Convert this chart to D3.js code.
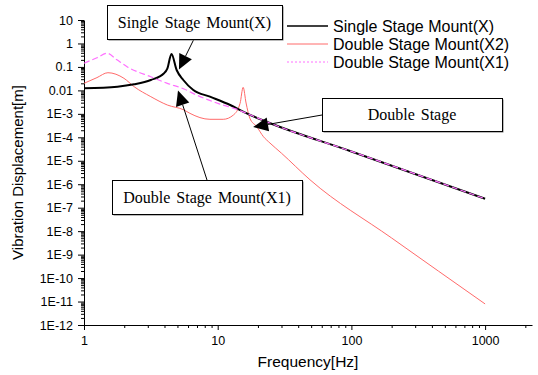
<!DOCTYPE html>
<html>
<head>
<meta charset="utf-8">
<script src="https://cdn.jsdelivr.net/npm/d3@7"></script>
<style>
  body { margin: 0; background: #fff; }
  svg { display: block; }
  .tick text { font-family: "Liberation Sans", Arial, sans-serif; font-size: 12.5px; fill: #000; }
  .axis path, .axis line { stroke: #000; }
</style>
</head>
<body>
<div id="chart"></div>
<script>
// values
const freqSingle = [1, 1.78, 2.37, 3.16, 3.97, 4.2, 4.51, 4.93, 5.53, 6.57, 8.75, 12.4, 16.5, 23.2, 100, 1000];
const dispSingle = [0.0123, 0.0144, 0.0182, 0.0277, 0.0535, 0.085, 0.356, 0.074, 0.0277, 0.0104, 0.0054, 0.00238, 0.00105, 4.6e-4, 2.5e-5, 2.4e-7];

const freqX2 = [1, 1.25, 1.51, 1.99, 2.37, 3.16, 4.2, 5.6, 6.2, 8.75, 11, 13.1, 14.7, 15.5, 16.3, 17.4, 19.6, 22, 24.6, 30, 49, 200, 1000];
const dispX2 = [0.02, 0.035, 0.0567, 0.0327, 0.0144, 0.0054, 0.00238, 0.00146, 0.00105, 5.85e-4, 5.85e-4, 8.9e-4, 0.0028, 0.0135, 0.0029, 6.5e-4, 2.83e-4, 1.06e-4, 5.7e-5, 2.1e-5, 1.55e-6, 5.1e-9, 7.9e-12];

const freqX1 = [1, 1.25, 1.49, 1.75, 2.1, 3.16, 4.2, 5.6, 7, 10.4, 14, 16.5, 23.2, 100, 1000];
const dispX1 = [0.143, 0.247, 0.38, 0.207, 0.102, 0.038, 0.02, 0.0115, 0.0062, 0.0026, 0.00155, 0.00105, 4.6e-4, 2.5e-5, 2.4e-7];

const seriesNames = ["Single Stage Mount(X)", "Double Stage Mount(X2)", "Double Stage Mount(X1)"];
const seriesColors = ["#000000", "#ff6a6a", "#ff70ff"];

const xTicks = [1, 10, 100, 1000];
const xTickLabels = ["1", "10", "100", "1000"];
const yTicks = [10, 1, 0.1, 0.01, 1e-3, 1e-4, 1e-5, 1e-6, 1e-7, 1e-8, 1e-9, 1e-10, 1e-11, 1e-12];
const yTickLabels = ["10", "1", "0.1", "0.01", "1E-3", "1E-4", "1E-5", "1E-6", "1E-7", "1E-8", "1E-9", "1E-10", "1E-11", "1E-12"];

const w = 538, h = 375;
const margin = { top: 20, right: 6, bottom: 50, left: 84 };

const svg = d3.select("#chart").append("svg")
  .attr("width", w)
  .attr("height", h);

const x = d3.scaleLog()
  .domain([1, 2243])
  .range([margin.left, w - margin.right]);

const y = d3.scaleLog()
  .domain([1e-12, 10])
  .range([h - margin.bottom, margin.top]);

// minor ticks 2..9 in each decade
const xMinor = [];
for (let e = 0; e <= 3; e++) {
  for (let k = 2; k <= 9; k++) {
    const v = k * Math.pow(10, e);
    if (v <= 2243) xMinor.push(v);
  }
}
const yMinor = [];
for (let e = -12; e < 1; e++) {
  for (let k = 2; k <= 9; k++) yMinor.push(k * Math.pow(10, e));
}

// x axis
svg.append("g")
  .attr("class", "axis")
  .attr("transform", "translate(0," + (h - margin.bottom) + ")")
  .call(d3.axisBottom(x).tickValues(xMinor).tickSize(3).tickFormat("").tickSizeOuter(0))
  .call(g => g.select(".domain").remove());

svg.append("g")
  .attr("class", "axis")
  .attr("transform", "translate(0," + (h - margin.bottom) + ")")
  .call(d3.axisBottom(x).tickValues(xTicks).tickSize(5).tickPadding(6).tickSizeOuter(0)
    .tickFormat((d, i) => xTickLabels[i]));

// y axis
svg.append("g")
  .attr("class", "axis")
  .attr("transform", "translate(" + margin.left + ",0)")
  .call(d3.axisLeft(y).tickValues(yMinor).tickSize(3).tickFormat("").tickSizeOuter(0))
  .call(g => g.select(".domain").remove());

svg.append("g")
  .attr("class", "axis")
  .attr("transform", "translate(" + margin.left + ",0)")
  .call(d3.axisLeft(y).tickValues(yTicks).tickSize(6).tickPadding(5).tickSizeOuter(0)
    .tickFormat((d, i) => yTickLabels[i]));

// axis titles
svg.append("text")
  .attr("x", (margin.left + w - margin.right) / 2)
  .attr("y", 367)
  .attr("text-anchor", "middle")
  .style("font-family", "Liberation Sans, Arial, sans-serif")
  .style("font-size", "15.5px")
  .text("Frequency[Hz]");

svg.append("text")
  .attr("transform", "translate(23," + ((margin.top + h - margin.bottom) / 2) + ") rotate(-90)")
  .attr("text-anchor", "middle")
  .style("font-family", "Liberation Sans, Arial, sans-serif")
  .style("font-size", "15px")
  .text("Vibration Displacement[m]");

// curves
const line = d3.line()
  .x(d => x(d[0]))
  .y(d => y(d[1]))
  .curve(d3.curveMonotoneX);

const dataSingle = freqSingle.map((f, i) => [f, dispSingle[i]]);
const dataX2 = freqX2.map((f, i) => [f, dispX2[i]]);
const dataX1 = freqX1.map((f, i) => [f, dispX1[i]]);

svg.append("path")
  .datum(dataX2)
  .attr("fill", "none")
  .attr("stroke", seriesColors[1])
  .attr("stroke-width", 1)
  .attr("d", line);

svg.append("path")
  .datum(dataSingle)
  .attr("fill", "none")
  .attr("stroke", seriesColors[0])
  .attr("stroke-width", 2)
  .attr("d", line);

svg.append("path")
  .datum(dataX1)
  .attr("fill", "none")
  .attr("stroke", seriesColors[2])
  .attr("stroke-width", 1.2)
  .attr("stroke-dasharray", "6,3")
  .attr("d", line);

// legend
const legend = svg.append("g").selectAll("g")
  .data(seriesNames)
  .enter()
  .append("g")
  .attr("transform", (d, i) => "translate(0," + (26 + i * 18) + ")");

legend.append("line")
  .attr("x1", 287)
  .attr("x2", 328)
  .attr("stroke", (d, i) => seriesColors[i])
  .attr("stroke-width", (d, i) => i == 0 ? 1.5 : 1)
  .attr("stroke-dasharray", (d, i) => i == 2 ? "2,2" : null);

legend.append("text")
  .attr("x", 333)
  .attr("dy", "0.35em")
  .style("font-family", "Liberation Sans, Arial, sans-serif")
  .style("font-size", "16px")
  .text(d => d);

// annotation boxes with arrows
const notes = [
  { text: "Single Stage Mount(X)", box: [107, 5, 175, 34], from: [194, 39], to: [5.13, 0.0776] },
  { text: "Double Stage", box: [322, 98, 180, 33], from: [322, 115], to: [18.4, 2.75e-4] },
  { text: "Double Stage Mount(X1)", box: [112, 180, 190, 34], from: [207, 180], to: [5.05, 0.0099] }
];

notes.forEach(n => {
  const tx = x(n.to[0]), ty = y(n.to[1]);
  const dx = tx - n.from[0], dy = ty - n.from[1];
  const len = Math.sqrt(dx * dx + dy * dy);
  const ux = dx / len, uy = dy / len;
  const headL = 15, headW = 7;
  const bx = tx - ux * headL, by = ty - uy * headL;

  svg.append("line")
    .attr("x1", n.from[0]).attr("y1", n.from[1])
    .attr("x2", bx).attr("y2", by)
    .attr("stroke", "#000")
    .attr("stroke-width", 1);

  svg.append("path")
    .attr("d", "M" + tx + "," + ty +
      "L" + (bx - uy * headW) + "," + (by + ux * headW) +
      "L" + (bx + uy * headW) + "," + (by - ux * headW) + "Z")
    .attr("fill", "#000");

  svg.append("rect")
    .attr("x", n.box[0] + 1.5).attr("y", n.box[1] + 1.5)
    .attr("width", n.box[2]).attr("height", n.box[3])
    .attr("fill", "#777");

  svg.append("rect")
    .attr("x", n.box[0] + 0.5).attr("y", n.box[1] + 0.5)
    .attr("width", n.box[2]).attr("height", n.box[3])
    .attr("fill", "#fff")
    .attr("stroke", "#000")
    .attr("stroke-width", 1);

  svg.append("text")
    .attr("x", n.box[0] + n.box[2] / 2)
    .attr("y", n.box[1] + n.box[3] / 2 + 5.5)
    .attr("text-anchor", "middle")
    .style("font-family", "Liberation Serif, 'Times New Roman', serif")
    .style("font-size", "16px")
    .style("word-spacing", "2px")
    .text(n.text);
});
</script>
</body>
</html>
